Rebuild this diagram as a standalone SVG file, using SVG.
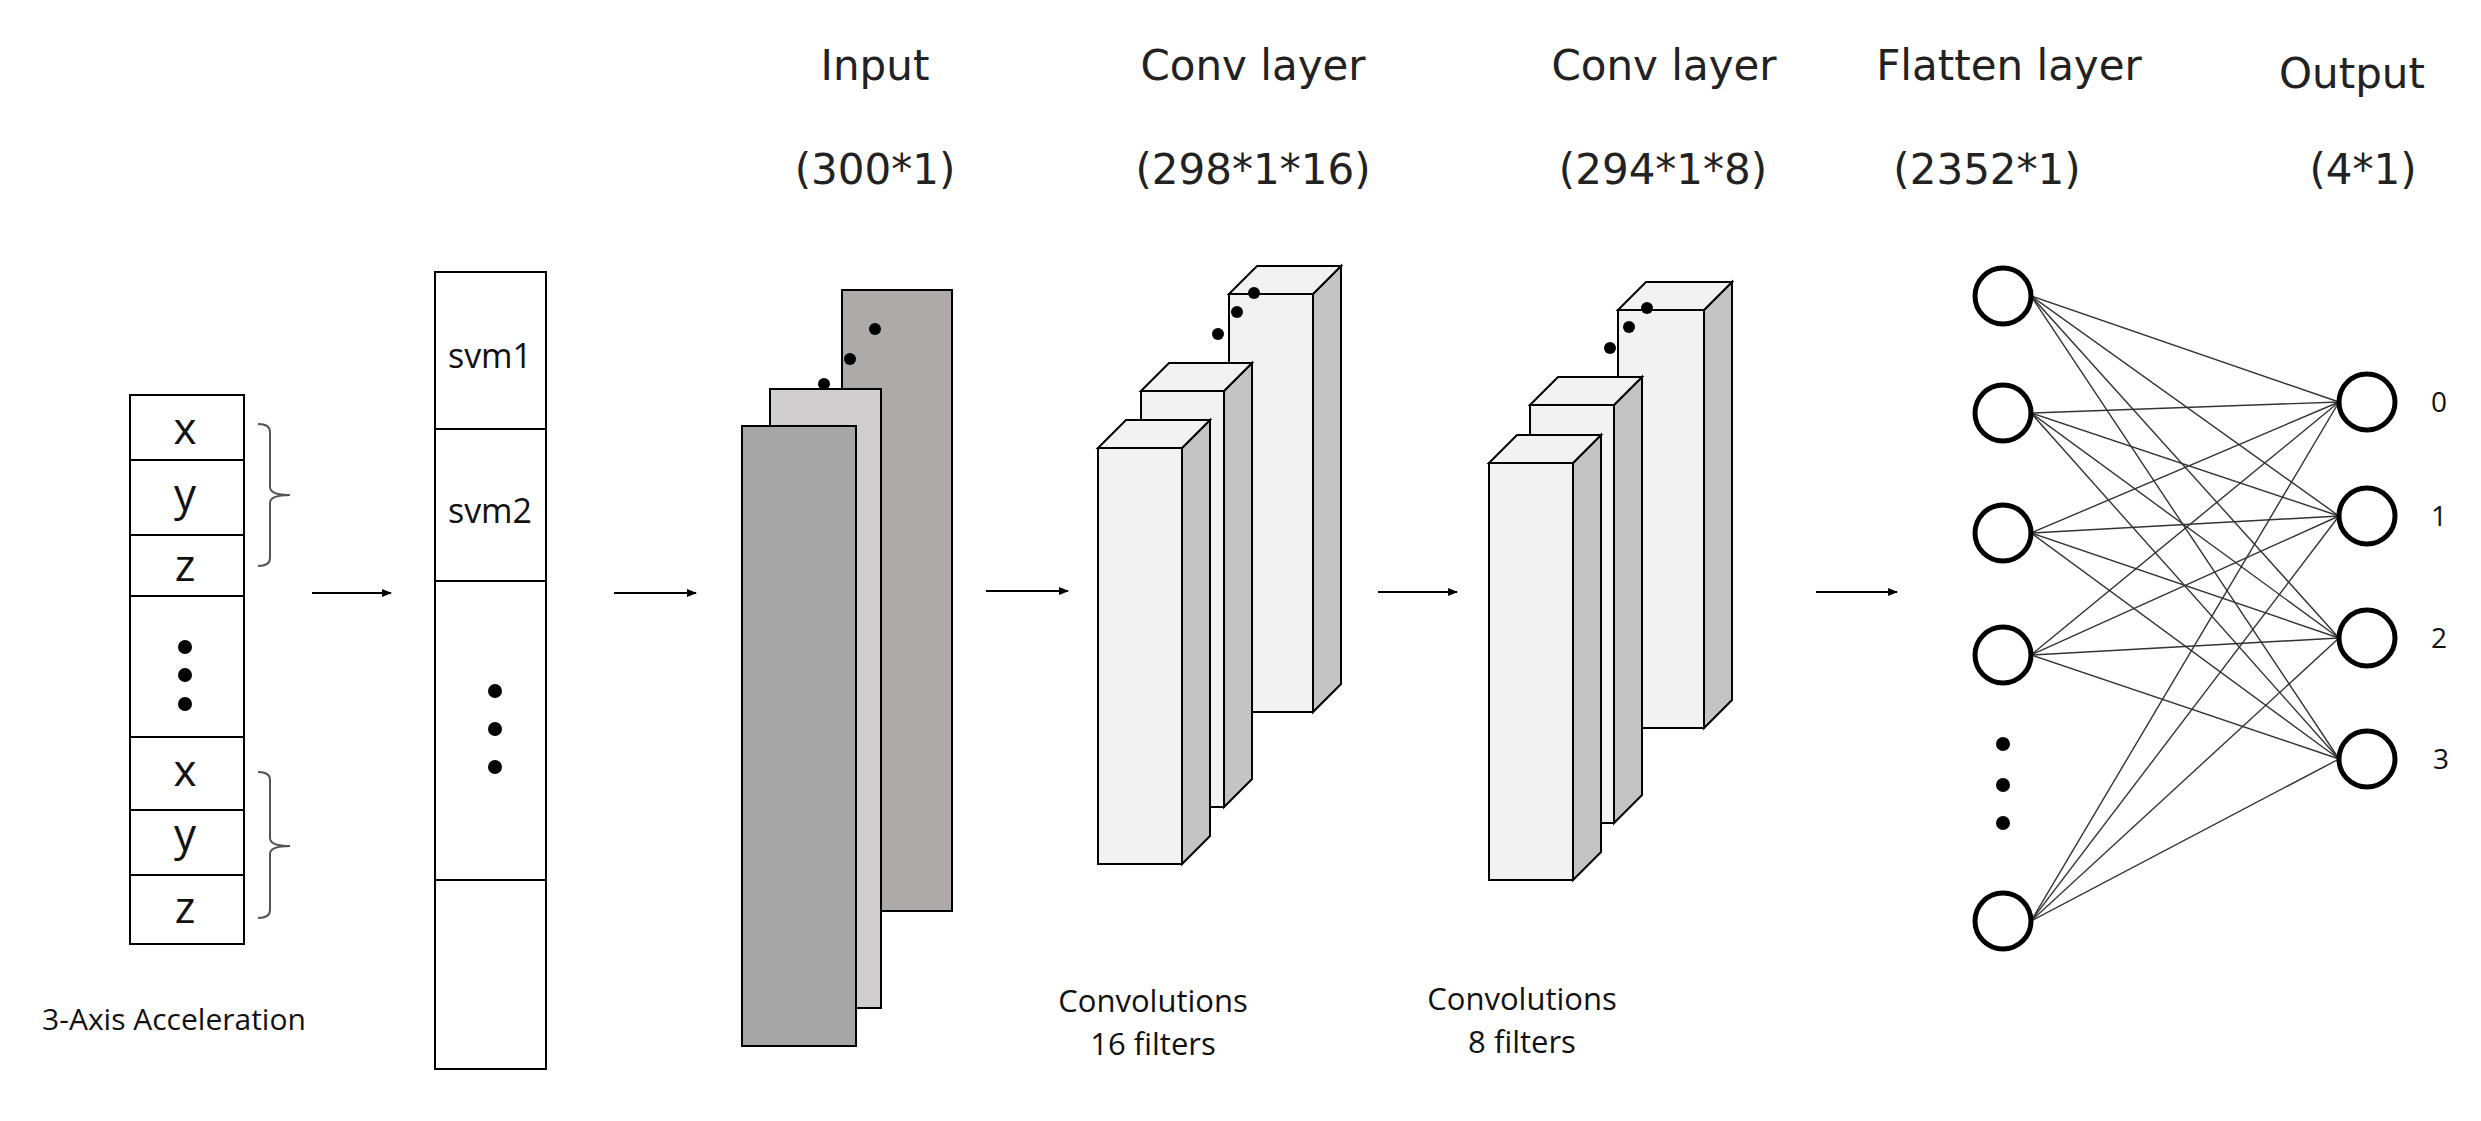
<svg xmlns="http://www.w3.org/2000/svg" width="2481" height="1121" viewBox="0 0 2481 1121">
<defs>
<marker id="ah" markerWidth="10" markerHeight="8" refX="9" refY="4" orient="auto" markerUnits="userSpaceOnUse"><path d="M0,0 L10,4 L0,8 z" fill="#000"/></marker>
<style>
.t{font-family:"DejaVu Sans",sans-serif;font-size:42px;fill:#222;text-anchor:middle}
.s{font-family:"Open Sans","Liberation Sans",sans-serif;fill:#111;text-anchor:middle}
.box{fill:#fff;stroke:#000;stroke-width:2}
.face{fill:#f2f2f2;stroke:#000;stroke-width:2}
.side{fill:#c4c4c4;stroke:#000;stroke-width:2}
.arr{stroke:#000;stroke-width:2;fill:none;marker-end:url(#ah)}
.nn{fill:#fff;stroke:#000;stroke-width:5}
.ln{stroke:#333;stroke-width:1.4}
</style>
</defs>
<g id="titles">
<text class="t" x="875" y="80">Input</text>
<text class="t" x="875" y="184">(300*1)</text>
<text class="t" x="1253" y="80">Conv layer</text>
<text class="t" x="1253" y="184">(298*1*16)</text>
<text class="t" x="1664" y="80">Conv layer</text>
<text class="t" x="1663" y="184">(294*1*8)</text>
<text class="t" x="2009" y="80">Flatten layer</text>
<text class="t" x="1987" y="184">(2352*1)</text>
<text class="t" x="2352" y="88">Output</text>
<text class="t" x="2363" y="184">(4*1)</text>
</g>
<g id="accel">
<rect class="box" x="130" y="395" width="114" height="549"/>
<path d="M130,460H244M130,535H244M130,596H244M130,737H244M130,810H244M130,875H244" stroke="#000" stroke-width="2"/>
<g class="s" font-size="44">
<text x="185" y="444">x</text><text x="185" y="510">y</text><text x="185" y="581">z</text>
<text x="185" y="786">x</text><text x="185" y="850">y</text><text x="185" y="923">z</text>
</g>
<circle cx="185" cy="647" r="7"/><circle cx="185" cy="675" r="7"/><circle cx="185" cy="704" r="7"/>
<path d="M258,424 Q270,424 270,432 V487 Q270,495 290,495 Q270,495 270,503 V558 Q270,566 258,566" fill="none" stroke="#555" stroke-width="2"/>
<path d="M258,772 Q270,772 270,780 V838 Q270,846 290,846 Q270,846 270,854 V910 Q270,918 258,918" fill="none" stroke="#555" stroke-width="2"/>
<text class="s" x="174" y="1030" font-size="30">3-Axis Acceleration</text>
</g>
<g id="svm">
<rect class="box" x="435" y="272" width="111" height="797"/>
<path d="M435,429H546M435,581H546M435,880H546" stroke="#000" stroke-width="2"/>
<text class="s" x="490" y="368" font-size="34">svm1</text>
<text class="s" x="490" y="523" font-size="34">svm2</text>
<circle cx="495" cy="691" r="7"/><circle cx="495" cy="729" r="7"/><circle cx="495" cy="767" r="7"/>
</g>
<g id="input">
<rect x="842" y="290" width="110" height="621" fill="#aeaaaa" stroke="#000" stroke-width="2"/>
<rect x="770" y="389" width="111" height="619" fill="#d0cece" stroke="#000" stroke-width="2"/>
<rect x="742" y="426" width="114" height="620" fill="#a6a6a6" stroke="#000" stroke-width="2"/>
<circle cx="824" cy="384" r="6"/><circle cx="850" cy="359" r="6"/><circle cx="875" cy="329" r="6"/>
</g>
<g id="conv1">
<path class="side" d="M1313,294 L1341,266 V684 L1313,712 Z"/><path class="face" d="M1229,294 L1257,266 H1341 L1313,294 Z"/><rect class="face" x="1229" y="294" width="84" height="418"/>
<path class="side" d="M1224,391 L1252,363 V779 L1224,807 Z"/><path class="face" d="M1141,391 L1169,363 H1252 L1224,391 Z"/><rect class="face" x="1141" y="391" width="83" height="416"/>
<path class="side" d="M1182,448 L1210,420 V836 L1182,864 Z"/><path class="face" d="M1098,448 L1126,420 H1210 L1182,448 Z"/><rect class="face" x="1098" y="448" width="84" height="416"/>
<circle cx="1218" cy="334" r="6"/><circle cx="1237" cy="312" r="6"/><circle cx="1254" cy="293" r="6"/>
</g>
<g id="conv2">
<path class="side" d="M1704,310 L1732,282 V700 L1704,728 Z"/><path class="face" d="M1618,310 L1646,282 H1732 L1704,310 Z"/><rect class="face" x="1618" y="310" width="86" height="418"/>
<path class="side" d="M1614,405 L1642,377 V795 L1614,823 Z"/><path class="face" d="M1530,405 L1558,377 H1642 L1614,405 Z"/><rect class="face" x="1530" y="405" width="84" height="418"/>
<path class="side" d="M1573,463 L1601,435 V852 L1573,880 Z"/><path class="face" d="M1489,463 L1517,435 H1601 L1573,463 Z"/><rect class="face" x="1489" y="463" width="84" height="417"/>
<circle cx="1610" cy="348" r="6"/><circle cx="1629" cy="327" r="6"/><circle cx="1647" cy="308" r="6"/>
</g>
<g id="labels">
<text class="s" x="1153" y="1012" font-size="31">Convolutions</text>
<text class="s" x="1153" y="1055" font-size="31">16 filters</text>
<text class="s" x="1522" y="1010" font-size="31">Convolutions</text>
<text class="s" x="1522" y="1053" font-size="31">8 filters</text>
</g>
<g id="connectors">
<line class="arr" x1="312" y1="593" x2="391" y2="593"/>
<line class="arr" x1="614" y1="593" x2="696" y2="593"/>
<line class="arr" x1="986" y1="591" x2="1068" y2="591"/>
<line class="arr" x1="1378" y1="592" x2="1457" y2="592"/>
<line class="arr" x1="1816" y1="592" x2="1897" y2="592"/>
<g class="ln">
<line x1="2031" y1="296" x2="2339" y2="402"/><line x1="2031" y1="296" x2="2339" y2="516"/><line x1="2031" y1="296" x2="2339" y2="638"/><line x1="2031" y1="296" x2="2339" y2="759"/>
<line x1="2031" y1="413" x2="2339" y2="402"/><line x1="2031" y1="413" x2="2339" y2="516"/><line x1="2031" y1="413" x2="2339" y2="638"/><line x1="2031" y1="413" x2="2339" y2="759"/>
<line x1="2031" y1="533" x2="2339" y2="402"/><line x1="2031" y1="533" x2="2339" y2="516"/><line x1="2031" y1="533" x2="2339" y2="638"/><line x1="2031" y1="533" x2="2339" y2="759"/>
<line x1="2031" y1="655" x2="2339" y2="402"/><line x1="2031" y1="655" x2="2339" y2="516"/><line x1="2031" y1="655" x2="2339" y2="638"/><line x1="2031" y1="655" x2="2339" y2="759"/>
<line x1="2031" y1="921" x2="2339" y2="402"/><line x1="2031" y1="921" x2="2339" y2="516"/><line x1="2031" y1="921" x2="2339" y2="638"/><line x1="2031" y1="921" x2="2339" y2="759"/>
</g>
</g>
<g id="flatten">
<circle class="nn" cx="2003" cy="296" r="28"/><circle class="nn" cx="2003" cy="413" r="28"/><circle class="nn" cx="2003" cy="533" r="28"/><circle class="nn" cx="2003" cy="655" r="28"/><circle class="nn" cx="2003" cy="921" r="28"/>
<circle cx="2003" cy="744" r="7"/><circle cx="2003" cy="785" r="7"/><circle cx="2003" cy="823" r="7"/>
</g>
<g id="output">
<circle class="nn" cx="2367" cy="402" r="28"/><circle class="nn" cx="2367" cy="516" r="28"/><circle class="nn" cx="2367" cy="638" r="28"/><circle class="nn" cx="2367" cy="759" r="28"/>
<g class="s" font-size="28"><text x="2439" y="412">0</text><text x="2439" y="526">1</text><text x="2439" y="648">2</text><text x="2441" y="769">3</text></g>
</g>
</svg>
